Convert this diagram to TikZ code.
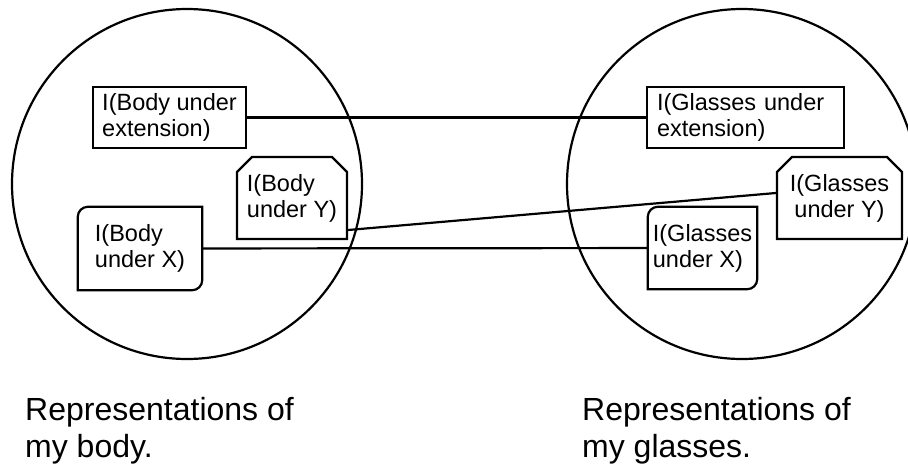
\documentclass[tikz,border=0pt]{standalone}
\usepackage{fontspec}
\setmainfont{Liberation Sans}
\usetikzlibrary{shapes.misc}
\tikzstyle{realm} = [circle, draw=black, line width=2.2pt, minimum size=350pt, inner sep=0pt]
\tikzstyle{extbox} = [rectangle, draw=black, fill=white, line width=2.2pt, inner sep=0pt, align=left, font=\fontsize{23.5}{26}\selectfont]
\tikzstyle{cutbox} = [chamfered rectangle, chamfered rectangle corners={north west, north east}, chamfered rectangle xsep=6pt, chamfered rectangle ysep=9pt, draw=black, fill=white, line width=2.2pt, inner sep=0pt, align=left, font=\fontsize{23.5}{26}\selectfont]
\tikzstyle{softbox} = [rectangle, fill=white, inner sep=0pt, align=left, font=\fontsize{23.5}{26}\selectfont]
\tikzstyle{link} = [line width=2.2pt]
\tikzstyle{caption} = [anchor=north west, inner sep=0pt, align=left, font=\fontsize{32}{37}\selectfont]
\newcommand{\softedge}[1]{\draw [link] ([yshift=-10pt]#1.north west) arc[start angle=180, end angle=90, radius=10pt] -- (#1.north east) -- ([yshift=10pt]#1.south east) arc[start angle=0, end angle=-90, radius=10pt] -- (#1.south west) -- cycle;}

\begin{document}
\begin{tikzpicture}[x=1pt, y=1pt]
    \useasboundingbox (0,0) rectangle (908,-467);

    \node (bodyset) [realm] at (187,-184) {};
    \node (glassesset) [realm] at (742,-184) {};

    \node (bodyext) [extbox, minimum width=153pt, minimum height=61pt] at (169.5,-117.5) {I(Body under\\extension)};
    \node (bodyy) [cutbox, minimum width=110pt, minimum height=82pt] at (292,-198) {I(Body\\under Y)};
    \node (bodyx) [softbox, minimum width=124pt, minimum height=83pt] at (140,-248.5) {I(Body\\under X)};
    \softedge{bodyx}

    \node (glassesext) [extbox, text width=177pt, minimum width=197pt, minimum height=61pt] at (745.5,-117.5) {I(Glasses under\\extension)};
    \node (glassesy) [cutbox, align=center, minimum width=125pt, minimum height=82pt] at (839.5,-198) {I(Glasses\\under Y)};
    \node (glassesx) [softbox, minimum width=109pt, minimum height=82pt] at (702.5,-248) {I(Glasses\\under X)};
    \softedge{glassesx}

    \draw [link] (bodyext) -- (glassesext);
    \draw [link] ([yshift=-32pt]bodyy.east) -- ([yshift=5pt]glassesy.west);
    \draw [link] (bodyx) -- (glassesx);

    \node (bodycaption) [caption] at (25,-397) {Representations of\\my body.};
    \node (glassescaption) [caption] at (582,-397) {Representations of\\my glasses.};

\end{tikzpicture}
\end{document}
